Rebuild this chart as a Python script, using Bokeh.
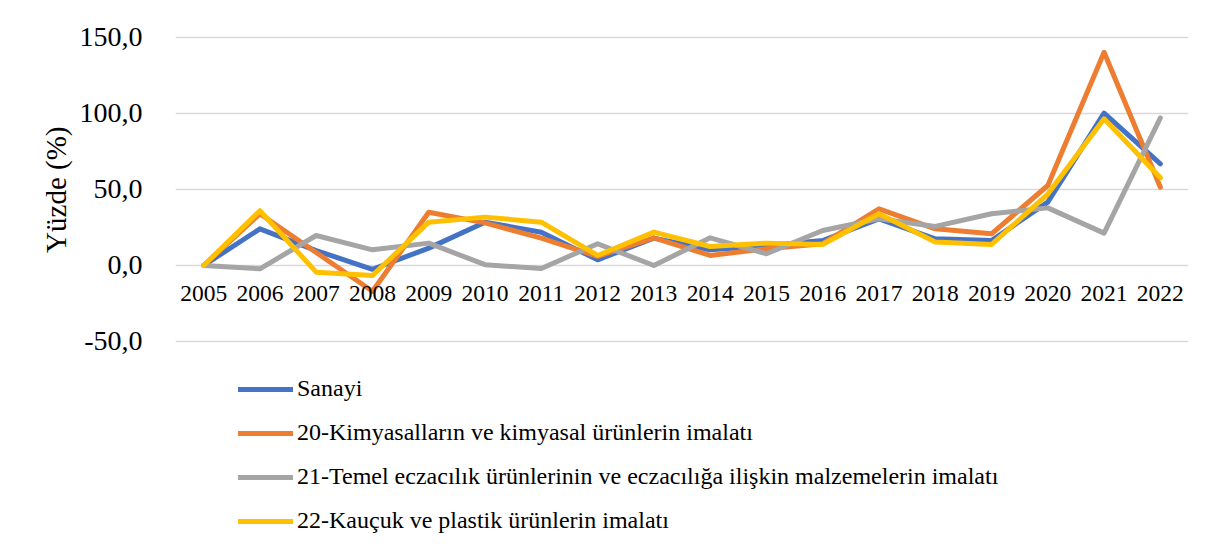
from bokeh.plotting import figure
from bokeh.models import FixedTicker, Legend, LegendItem, Range1d, Title
from bokeh.embed import file_html
from bokeh.resources import INLINE

years = list(range(2005, 2023))
sanayi = [0, 24.1, 9.8, -2.5, 11.4, 28.5, 21.9, 3.7, 18.0, 10.3, 13.0, 16.4, 30.7, 17.5, 16.4, 41.7, 100.2, 66.9]
kimya = [0, 34.0, 8.5, -17.0, 35.0, 28.0, 18.0, 6.0, 18.2, 6.6, 11.0, 14.3, 37.3, 24.1, 20.8, 52.6, 140.3, 51.5]
eczacilik = [0, -2.2, 19.7, 10.3, 14.7, 0.5, -2.0, 14.3, 0.0, 18.2, 7.7, 23.0, 30.7, 25.7, 34.0, 37.9, 21.3, 97.1]
kaucuk = [0, 36.0, -4.4, -6.6, 28.5, 31.8, 28.5, 6.6, 21.9, 12.5, 14.7, 13.8, 34.0, 15.4, 13.8, 47.0, 96.5, 57.7]

names = [
    "Sanayi",
    "20-Kimyasalların ve kimyasal ürünlerin imalatı",
    "21-Temel eczacılık ürünlerinin ve eczacılığa ilişkin malzemelerin imalatı",
    "22-Kauçuk ve plastik ürünlerin imalatı",
]
colors = ["#4472C4", "#ED7D31", "#A5A5A5", "#FFC000"]
y_ticks = [-50, 0, 50, 100, 150]
y_labels = ["-50,0", "0,0", "50,0", "100,0", "150,0"]
y_title = "Yüzde (%)"

FONT = "Liberation Serif"

p = figure(width=1216, height=553, output_backend="svg", toolbar_location=None,
           x_range=Range1d(2004.5, 2022.5), y_range=Range1d(-189.5, 151.3),
           min_border_left=175, min_border_right=28, min_border_top=35, min_border_bottom=0)
p.outline_line_color = None

items = []
for ys, name, c in zip([sanayi, kimya, eczacilik, kaucuk], names, colors):
    r = p.line(years, ys, line_color=c, line_width=5, line_cap="round", line_join="round")
    items.append(LegendItem(label=name, renderers=[r]))

p.xgrid.visible = False
p.ygrid.grid_line_color = "#D9D9D9"
p.ygrid.grid_line_width = 1.5
p.ygrid.ticker = FixedTicker(ticks=y_ticks)

p.yaxis.ticker = FixedTicker(ticks=y_ticks)
p.yaxis.major_label_overrides = {t: l for t, l in zip(y_ticks, y_labels)}
p.yaxis.axis_line_color = None
p.yaxis.major_tick_line_color = None
p.yaxis.minor_tick_line_color = None
p.yaxis.major_label_text_font = FONT
p.yaxis.major_label_text_font_size = "28px"
p.yaxis.major_label_text_color = "#000000"
p.yaxis.major_label_standoff = 27

ytitle = Title(text=y_title, align="right", vertical_align="middle", offset=91,
               text_font=FONT, text_font_size="29px", text_font_style="normal",
               text_color="#000000", standoff=8)
p.add_layout(ytitle, "left")

p.xaxis.ticker = FixedTicker(ticks=years)
p.xaxis.major_label_overrides = {y: str(y) for y in years}
p.xaxis.fixed_location = 0
p.xaxis.axis_line_color = None
p.xaxis.major_tick_line_color = None
p.xaxis.minor_tick_line_color = None
p.xaxis.major_label_text_font = FONT
p.xaxis.major_label_text_font_size = "23.5px"
p.xaxis.major_label_text_color = "#000000"
p.xaxis.major_label_standoff = 15

legend = Legend(items=items, location=(63, 19), orientation="vertical",
                label_text_font=FONT, label_text_font_size="24px", label_text_color="#000000",
                glyph_width=55, glyph_height=24, label_height=24, spacing=17,
                padding=0, margin=0, label_standoff=4,
                border_line_color=None, background_fill_alpha=0)
p.add_layout(legend, "center")

open("out.html", "w").write(file_html(p, INLINE))
